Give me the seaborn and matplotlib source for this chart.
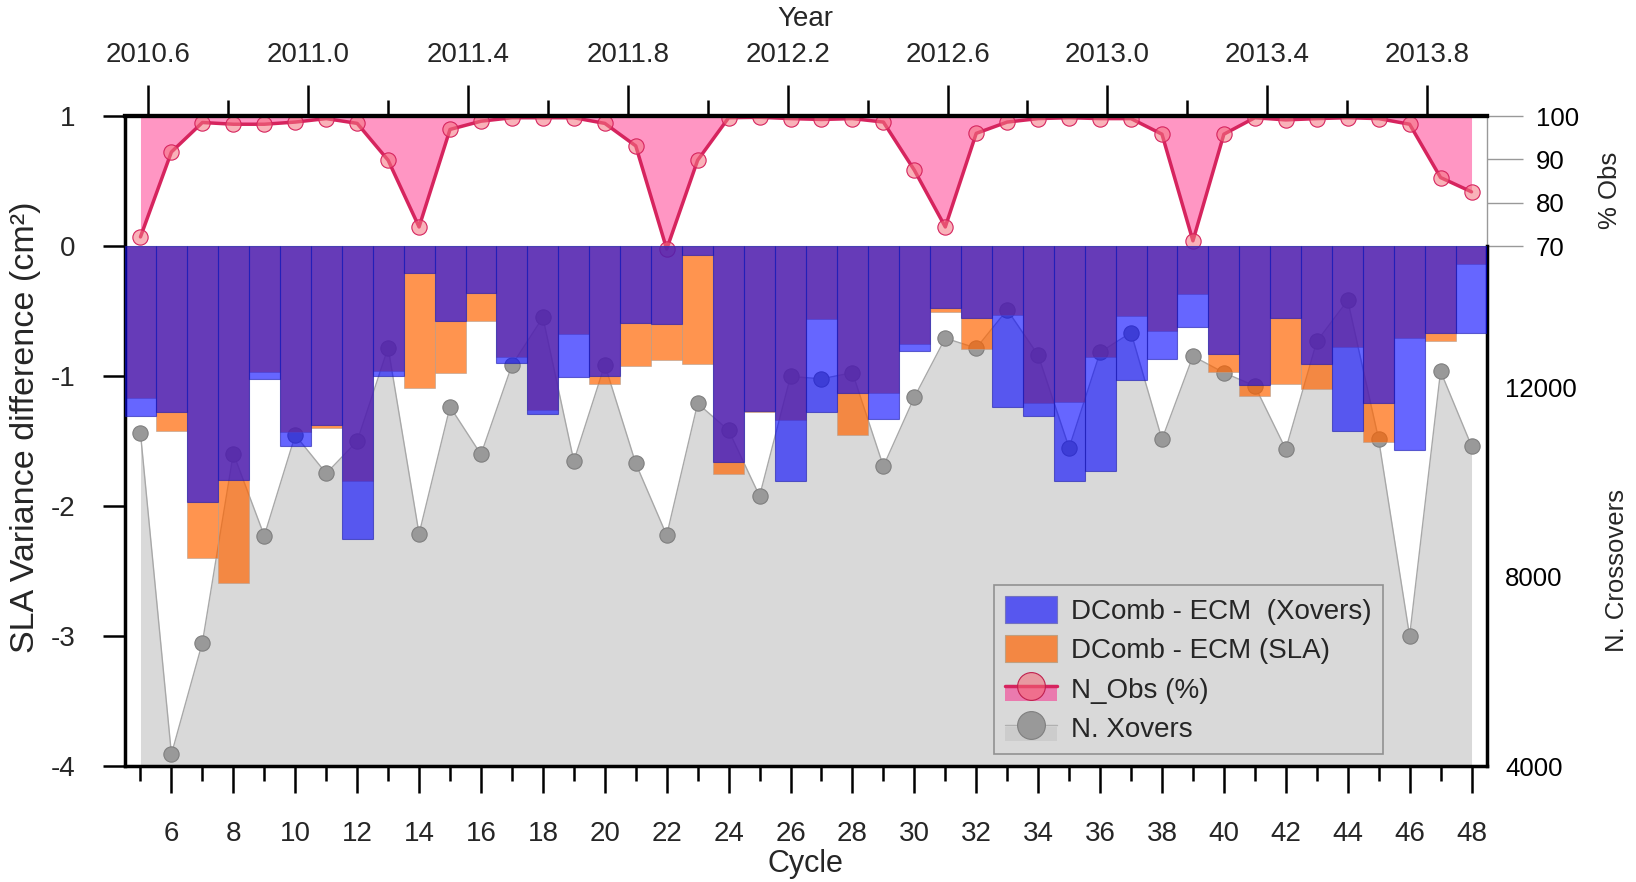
import numpy as np
import pandas as pd
import matplotlib
matplotlib.use("Agg")
import matplotlib.pyplot as plt
import seaborn as sns
from matplotlib.patches import Patch, Rectangle
from matplotlib.lines import Line2D
from matplotlib.legend_handler import HandlerPatch
from matplotlib.ticker import FormatStrFormatter

# ---------------- data ----------------
cycles = [5, 6, 7, 8, 9, 10, 11, 12, 13, 14, 15, 16, 17, 18, 19, 20, 21, 22, 23, 24, 25, 26,
          27, 28, 29, 30, 31, 32, 33, 34, 35, 36, 37, 38, 39, 40, 41, 42, 43, 44, 45, 46, 47, 48]

xovers_diff = [-1.31, -1.28, -1.97, -1.80, -1.02, -1.54, -1.38, -2.25, -1.00, -0.21, -0.58,
               -0.36, -0.90, -1.29, -1.01, -1.00, -0.59, -0.60, -0.07, -1.66, -1.27, -1.81,
               -1.28, -1.13, -1.33, -0.81, -0.48, -0.55, -1.24, -1.31, -1.81, -1.73, -1.03,
               -0.87, -0.62, -0.83, -1.07, -0.55, -0.91, -1.42, -1.21, -1.57, -0.67, -0.67]

sla_diff = [-1.17, -1.42, -2.40, -2.59, -0.97, -1.43, -1.40, -1.81, -0.96, -1.09, -0.98,
            -0.58, -0.85, -1.26, -0.68, -1.06, -0.92, -0.88, -0.91, -1.75, -1.28, -1.34,
            -0.56, -1.45, -1.13, -0.75, -0.51, -0.79, -0.53, -1.21, -1.20, -0.85, -0.54,
            -0.65, -0.37, -0.97, -1.15, -1.06, -1.10, -0.78, -1.51, -0.71, -0.73, -0.14]

obs_pct = [72.1, 91.7, 98.5, 98.1, 98.1, 98.6, 99.4, 98.3, 89.8, 74.4, 96.9, 98.8, 99.6,
           99.6, 99.6, 98.3, 93.1, 69.3, 89.8, 99.6, 99.7, 99.4, 99.2, 99.4, 98.6, 87.5,
           74.4, 96.0, 98.6, 99.4, 99.6, 99.4, 99.4, 95.8, 71.2, 95.8, 99.6, 99.1, 99.4,
           99.6, 99.4, 98.1, 85.8, 82.5]

n_xovers = [11040, 4250, 6610, 10610, 8870, 11000, 10190, 10870, 12850, 8910, 11600, 10590,
            12480, 13490, 10450, 12490, 10400, 8880, 11670, 11100, 9710, 12240, 12190, 12320,
            10340, 11800, 13050, 12840, 13650, 12690, 10730, 12750, 13170, 10910, 12670, 12320,
            12040, 10700, 12980, 13850, 10910, 6750, 12350, 10770]

cycle_ticks = [6, 8, 10, 12, 14, 16, 18, 20, 22, 24, 26, 28, 30, 32, 34, 36, 38, 40, 42, 44, 46, 48]
cycle_minor = [5, 7, 9, 11, 13, 15, 17, 19, 21, 23, 25, 27, 29, 31, 33, 35, 37, 39, 41, 43, 45, 47]
var_ticks = [-4, -3, -2, -1, 0, 1]
year_ticks = [2010.6, 2011.0, 2011.4, 2011.8, 2012.2, 2012.6, 2013.0, 2013.4, 2013.8]
year_minor = [2010.8, 2011.2, 2011.6, 2012.0, 2012.4, 2012.8, 2013.2, 2013.6]
pct_ticks = [70, 80, 90, 100]
n_ticks = [4000, 8000, 12000]

# ---------------- style ----------------
sns.set_theme(style="ticks")
plt.rcParams['font.family'] = ['Liberation Sans', 'DejaVu Sans']

W, H = 1636, 882
fig = plt.figure(figsize=(W / 100, H / 100), dpi=100)
fig.patch.set_facecolor('white')
rect = [125 / W, 116 / H, 1362 / W, 650 / H]
XL = (4.5, 48.5)

# layer 1: crossovers (gray)
ax_n = fig.add_axes(rect)
ax_n.set_facecolor('white')
ax_n.fill_between(cycles, n_xovers, 4000, color='#D9D9D9', lw=0, zorder=1)
sns.lineplot(x=cycles, y=n_xovers, ax=ax_n, color='#A8A8A8', lw=1.0, marker='o',
             markersize=11, markerfacecolor='#999999', markeredgecolor='#7F7F7F',
             markeredgewidth=0.8, zorder=2)
ax_n.set_xlim(*XL)
ax_n.set_ylim(4000, 17750)
ax_n.xaxis.set_visible(False)
for s in ax_n.spines.values():
    s.set_visible(False)
ax_n.yaxis.tick_right()
ax_n.yaxis.set_label_position('right')
ax_n.set_yticks(n_ticks)
ax_n.set_yticklabels([str(t) for t in n_ticks])
ax_n.tick_params(axis='y', which='both', length=0, pad=13, labelsize=18.5, colors='black',
                 left=False, right=True)
ax_n.set_ylabel('N. Crossovers', fontsize=18.5, rotation=90, va='center', ha='center')
ax_n.yaxis.set_label_coords(1.0954, 0.300)

# layer 2: % obs (pink)
ax_p = fig.add_axes(rect)
ax_p.patch.set_visible(False)
ax_p.fill_between(cycles, obs_pct, 100, color='#FF96C3', lw=0, zorder=1)
sns.lineplot(x=cycles, y=obs_pct, ax=ax_p, color='#D6245E', lw=2.5, marker='o',
             markersize=11, markerfacecolor=(0.96, 0.45, 0.5, 0.55),
             markeredgecolor='#D6245E', markeredgewidth=0.8, zorder=2)
ax_p.set_xlim(*XL)
ax_p.set_ylim(-50, 100)
ax_p.xaxis.set_visible(False)
for k, s in ax_p.spines.items():
    s.set_visible(k == 'right')
ax_p.spines['right'].set_bounds(70, 100)
ax_p.spines['right'].set_color('#999999')
ax_p.spines['right'].set_linewidth(1.0)
ax_p.yaxis.tick_right()
ax_p.yaxis.set_label_position('right')
ax_p.set_yticks(pct_ticks)
ax_p.set_yticklabels([str(t) for t in pct_ticks])
ax_p.tick_params(axis='y', which='both', length=26, width=1.0, color='#999999', pad=9,
                 labelsize=18.5, labelcolor='black', left=False, right=True)
ax_p.set_ylabel('% Obs', fontsize=18.5, rotation=90, va='center', ha='center')
ax_p.yaxis.set_label_coords(1.0903, 0.886)

# layer 3: variance differences (bars)
ax_v = fig.add_axes(rect)
ax_v.patch.set_visible(False)
df = pd.DataFrame({'cycle': cycles, 'sla': sla_diff, 'xov': xovers_diff})
sns.barplot(data=df, x='cycle', y='sla', ax=ax_v, native_scale=True, width=1.0,
            color='#FF6400', alpha=0.69, saturation=1, errorbar=None,
            edgecolor='#B8A090', linewidth=0.6, zorder=2)
sns.barplot(data=df, x='cycle', y='xov', ax=ax_v, native_scale=True, width=1.0,
            color='#0000FF', alpha=0.6, saturation=1, errorbar=None,
            edgecolor='#1A1AB0', linewidth=0.8, zorder=3)
ax_v.set_xlim(*XL)
ax_v.set_ylim(-4, 1)
for k, s in ax_v.spines.items():
    s.set_visible(True)
    s.set_color('black')
    s.set_linewidth(2.5)
ax_v.spines['top'].set_linewidth(3)
ax_v.spines['right'].set_bounds(-4, 0)
ax_v.set_xticks(cycle_ticks)
ax_v.set_xticks(cycle_minor, minor=True)
ax_v.set_xticklabels([str(t) for t in cycle_ticks])
ax_v.set_yticks(var_ticks)
ax_v.set_yticklabels([str(t) for t in var_ticks])
ax_v.tick_params(axis='x', which='major', direction='out', length=19.5, width=1.8, pad=20,
                 labelsize=20, bottom=True, top=False, color='black')
ax_v.tick_params(axis='x', which='minor', direction='out', length=10.5, width=1.8,
                 bottom=True, top=False, color='black')
ax_v.tick_params(axis='y', which='major', direction='out', length=16, width=1.8, pad=20,
                 labelsize=20, left=True, right=False, color='black')
ax_v.tick_params(axis='y', which='minor', left=False, right=False)
ax_v.set_xlabel('Cycle', fontsize=22, va='center', ha='center')
ax_v.xaxis.set_label_coords(0.4993, -0.151)
ax_v.set_ylabel('SLA Variance difference (cm²)', fontsize=24.5, va='center', ha='center')
ax_v.yaxis.set_label_coords(-0.0727, 0.5208)


# top year axis
def c2y(c):
    return 2010.6 + (np.asarray(c, dtype=float) - 5.2526) * 0.07746


def y2c(y):
    return 5.2526 + (np.asarray(y, dtype=float) - 2010.6) / 0.07746


sec = ax_v.secondary_xaxis('top', functions=(c2y, y2c))
sec.set_xticks(year_ticks)
sec.set_xticks(year_minor, minor=True)
sec.xaxis.set_major_formatter(FormatStrFormatter('%.1f'))
sec.tick_params(axis='x', which='major', direction='out', length=22, width=1.8, pad=12.5,
                labelsize=20, color='black')
sec.tick_params(axis='x', which='minor', direction='out', length=11.5, width=1.8,
                color='black')
sec.spines['top'].set_linewidth(3)
sec.spines['top'].set_color('black')
fig.text(805 / W, 1 - 19 / H, 'Year', fontsize=20, ha='center', va='center')


# legend
def half_rect(legend, orig_handle, xdescent, ydescent, width, height, fontsize):
    return Rectangle((-xdescent, -ydescent), width, height * 0.5)


h_blue = Patch(facecolor=(0, 0, 1, 0.6), edgecolor=(0.45, 0.45, 0.75), lw=0.8)
h_orange = Patch(facecolor=(1, 0.39, 0, 0.69), edgecolor='#C0A080', lw=0.8)
pink_rect = Patch(facecolor='#EA7AAE', lw=0)
pink_mark = Line2D([], [], color='#D6245E', lw=2.5, marker='o', markersize=20,
                   markerfacecolor=(0.96, 0.4, 0.45, 0.55), markeredgecolor='#C0204E',
                   markeredgewidth=0.8)
gray_rect = Patch(facecolor='#CCCCCC', lw=0)
gray_mark = Line2D([], [], color='#B0B0B0', lw=1.0, marker='o', markersize=20,
                   markerfacecolor='#999999', markeredgecolor='#7F7F7F', markeredgewidth=0.8)

leg = ax_v.legend([h_blue, h_orange, (pink_rect, pink_mark), (gray_rect, gray_mark)],
                  ['DComb - ECM  (Xovers)', 'DComb - ECM (SLA)', 'N_Obs (%)', 'N. Xovers'],
                  handler_map={pink_rect: HandlerPatch(patch_func=half_rect),
                               gray_rect: HandlerPatch(patch_func=half_rect)},
                  loc='upper left', bbox_to_anchor=(994 / W, 1 - 585 / H),
                  bbox_transform=fig.transFigure, borderaxespad=0, fontsize=20,
                  handlelength=1.87, handleheight=1.1, labelspacing=0.38,
                  handletextpad=0.5, borderpad=0.4, fancybox=False, frameon=True)
leg.get_frame().set_facecolor('none')
leg.get_frame().set_edgecolor('#7F7F7F')
leg.get_frame().set_linewidth(1.2)
leg.set_zorder(10)

fig.savefig('out.png', dpi=100, facecolor='white')
